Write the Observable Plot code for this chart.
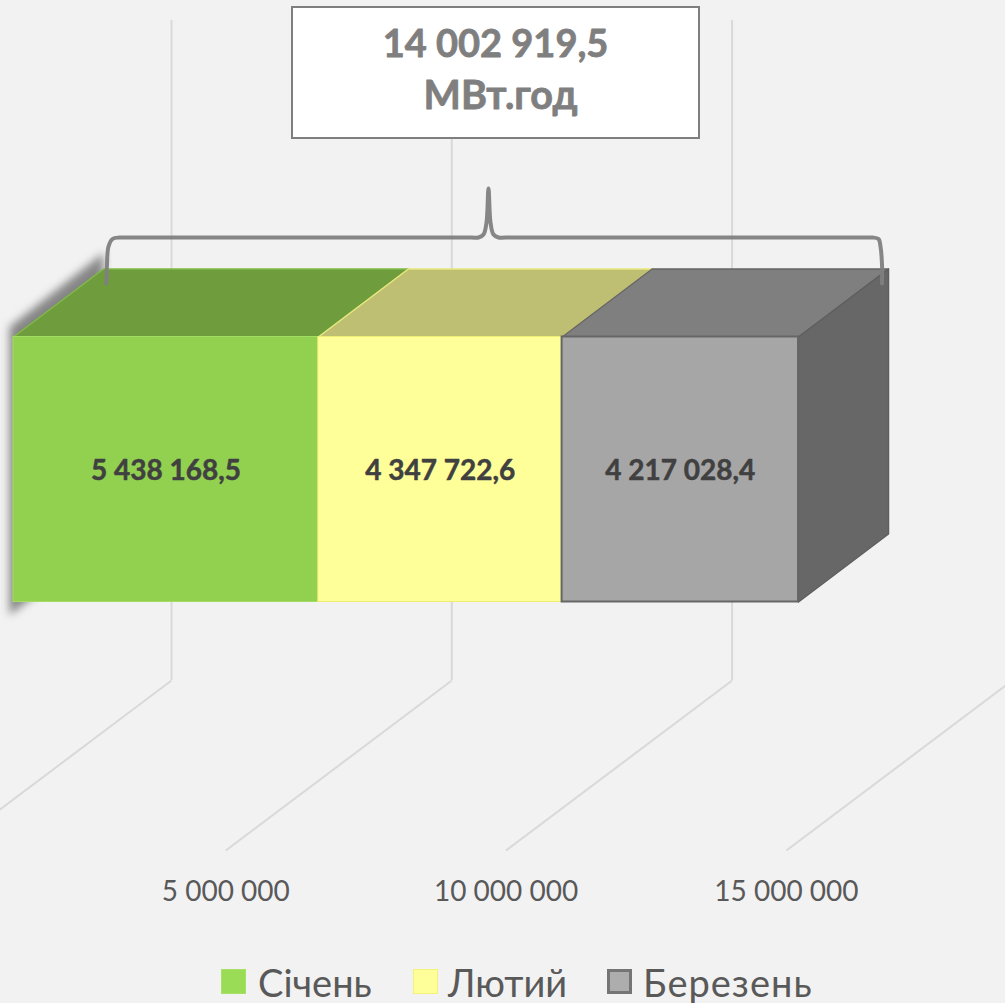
<!DOCTYPE html>
<html lang="uk">
<head>
<meta charset="utf-8">
<script src="https://cdn.jsdelivr.net/npm/d3@7"></script>
<script src="https://cdn.jsdelivr.net/npm/@observablehq/plot@0.6"></script>
<style>
html,body{margin:0;padding:0;background:#f2f2f2;}
body{width:1005px;height:1003px;overflow:hidden;font-family:Lato,"Open Sans",sans-serif;}
svg{display:block;}
#legend{display:flex;height:45px;position:relative;}
#legend div.sw{position:absolute;top:11px;width:25px;height:25px;box-sizing:border-box;}
#legend span{position:absolute;top:1px;font-size:38px;line-height:46px;color:#595959;}
</style>
</head>
<body>
<div id="chart"></div>
<div id="legend"></div>
<script>
// ---- chart values
const months = ["Січень", "Лютий", "Березень"];
const values = [5438168.5, 4347722.6, 4217028.4];
const valueLabels = ["5 438 168,5", "4 347 722,6", "4 217 028,4"];
const axisTicks = [5000000, 10000000, 15000000];
const gridValues = [0, 5000000, 10000000, 15000000];
const totalLines = ["14 002 919,5", "МВт.год"];

// ---- colours
const frontFill = ["#92d050", "#ffff99", "#a6a6a6"];
const frontStroke = ["#a3dc62", "#eeee70", "#666666"];
const topFill = ["#6f9c3d", "#bfbf73", "#7f7f7f"];
const topStroke = ["#80bb45", "#e8e87c", "#666666"];
const legendFill = ["#9bdc57", "#ffff99", "#adadad"];
const legendStroke = ["#a6e067", "#f3f37a", "#757575"];

// ---- scale set-up (x in MWh, y in vertical levels)
const W = 1005, H = 958, axisLevel = 892;
const k = 785 / d3.sum(values);          // px per MWh
const u = px => px / k;                  // px length to MWh
const barTop = 336.5, barBase = 601.5;
const depthX = u(90), depthY = 68;
const gridTop = 20, floorBack = 680, floorFront = 850;
const gridBack = u(158), gridFront = u(-68);

// ---- stacked extents
let acc = 0;
const bars = months.map((m, i) => {
  const r = {month: m, i, start: acc, end: acc + values[i], label: valueLabels[i]};
  acc += values[i];
  return r;
});
const total = acc;

const parallelogram = (x1, y1, x2, y2, dxv, dyv) => [
  {x: x1, y: y1}, {x: x2, y: y2}, {x: x2 + dxv, y: y2 + dyv}, {x: x1 + dxv, y: y1 + dyv}, {x: x1, y: y1}
];

const topFaces = bars.map(b =>
  Plot.line(parallelogram(b.start, barTop, b.end, barTop, depthX, -depthY),
    {x: "x", y: "y", fill: topFill[b.i], stroke: topStroke[b.i], strokeWidth: 1.5})
);
const sideFace = Plot.line(parallelogram(total, barTop, total, barBase, depthX, -depthY),
  {x: "x", y: "y", fill: "#676767", stroke: "#5f5f5f", strokeWidth: 1.5});

// soft shadow cast by the left end of the block
const shadow = Plot.line([
  {x: u(-4), y: barTop - 10}, {x: depthX, y: barTop - depthY - 16},
  {x: depthX, y: barBase - depthY + 10}, {x: u(-4), y: barBase + 13}, {x: u(-4), y: barTop - 10}
], {x: "x", y: "y", fill: "#858585", stroke: "none", imageFilter: "blur(4px)"});

// brace above the block: estimated waypoints
const braceX = [106, 106.5, 108, 112, 119, 126, 471, 478, 483, 486, 488, 490, 493, 498, 505, 865, 872, 878, 880, 881.5, 881.5];
const braceY = [283, 264, 246, 238.5, 237, 237, 237, 237, 234, 222, 188, 222, 234, 237, 237, 237, 237, 238.5, 246, 264, 283];
const brace = braceX.map((x, i) => ({x: u(x - 13), y: braceY[i]}));

const plot = Plot.plot({
  width: W, height: H,
  marginLeft: 0, marginRight: 0, marginTop: 0, marginBottom: H - axisLevel,
  style: {background: "#f2f2f2", fontFamily: "Lato, 'Open Sans', sans-serif", overflow: "hidden"},
  x: {domain: [u(-13), u(992)], range: [0, W], axis: null},
  y: {domain: [0, axisLevel], range: [0, axisLevel], axis: null},
  marks: [
    // wall gridlines and floor gridlines
    Plot.ruleX(gridValues, {x: d => d + gridBack, y1: gridTop, y2: floorBack, stroke: "#d9d9d9", strokeWidth: 2}),
    Plot.link(gridValues, {x1: d => d + gridBack, y1: floorBack, x2: d => d + gridFront, y2: floorFront, stroke: "#d9d9d9", strokeWidth: 2}),
    Plot.axisX(axisTicks, {
      anchor: "bottom", tickSize: 0, tickPadding: 0, lineAnchor: "middle", label: null, dx: -68,
      tickFormat: d => d3.format(",")(d).replace(/,/g, " "),
      fontSize: 28, fill: "#595959"
    }),
    shadow,
    ...topFaces,
    sideFace,
    Plot.rect(bars, {x1: "start", x2: "end", y1: barTop, y2: barBase,
      fill: d => frontFill[d.i], stroke: d => frontStroke[d.i], strokeWidth: d => d.i === 2 ? 2 : 1}),
    Plot.text(bars, {x: d => (d.start + d.end) / 2, y: 471, text: "label",
      fontSize: 28, fontWeight: 700, fill: "#404040", stroke: "#404040", strokeWidth: 0.5}),
    // total box
    Plot.rect([total], {x1: u(292 - 13), x2: u(699 - 13), y1: 7, y2: 138, fill: "#ffffff", stroke: "#7f7f7f", strokeWidth: 2}),
    Plot.text([totalLines[0]], {x: u(495 - 13), y: 44, text: d => d, fontSize: 38, fontWeight: 700, fill: "#7f7f7f", stroke: "#7f7f7f", strokeWidth: 0.8}),
    Plot.text([totalLines[1]], {x: u(500 - 13), y: 96, text: d => d, fontSize: 39.5, fontWeight: 700, fill: "#7f7f7f", stroke: "#7f7f7f", strokeWidth: 0.8}),
    Plot.line(brace, {x: "x", y: "y", stroke: "#7f7f7f", strokeWidth: 4, curve: "catmull-rom", strokeOpacity: 0.95})
  ]
});
document.getElementById("chart").append(plot);

// legend
const legendSwatchX = [221, 413, 607];
const legendTextX = [258, 448, 643];
const legendSpacing = [0, 0, 1];
const legend = document.getElementById("legend");
months.forEach((m, i) => {
  const sw = document.createElement("div");
  sw.className = "sw";
  sw.style.left = legendSwatchX[i] + "px";
  sw.style.background = legendFill[i];
  sw.style.border = (i === 2 ? 3 : 1.5) + "px solid " + legendStroke[i];
  const t = document.createElement("span");
  t.style.left = legendTextX[i] + "px";
  t.style.letterSpacing = legendSpacing[i] + "px";
  t.textContent = m;
  legend.append(sw, t);
});
</script>
</body>
</html>
